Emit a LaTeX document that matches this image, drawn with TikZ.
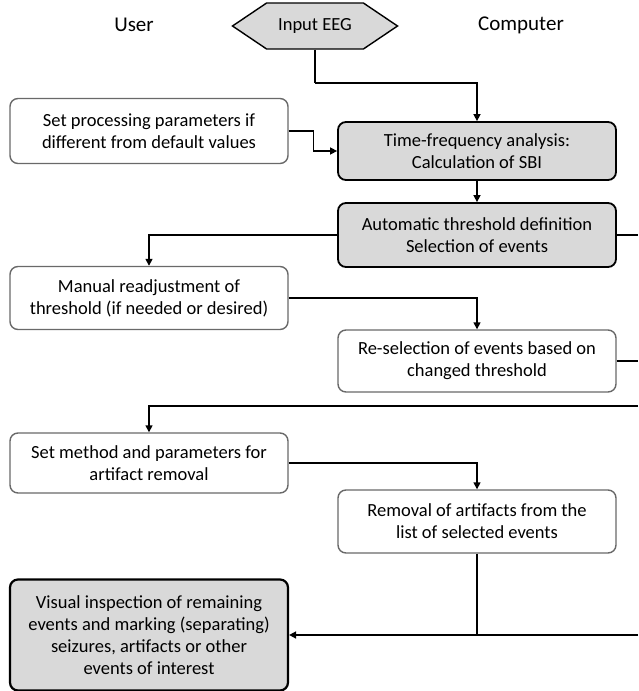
\documentclass[tikz,border=0pt]{standalone}
\usepackage{fontspec}
\setmainfont{Carlito}
\usepackage{tikz}
\usetikzlibrary{arrows.meta,shapes.symbols,positioning,calc}
\definecolor{boxGray}{RGB}{217,217,217}
\definecolor{edgeGray}{RGB}{105,105,105}
\tikzset{
  flowbox/.style={
    rectangle, rounded corners=8pt, align=center, inner sep=2pt,
    minimum width=278pt, font=\fontsize{18.5}{22}\selectfont
  },
  plainbox/.style={flowbox, draw=edgeGray, line width=1.4pt, fill=white},
  shadedbox/.style={flowbox, draw=black, line width=1.8pt, fill=boxGray},
  flowArrow/.style={-{Triangle[length=7pt,width=7pt]}, line width=1.5pt, draw=black},
  flowLine/.style={line width=1.5pt, draw=black}
}
\begin{document}
\begin{tikzpicture}[x=1pt, y=-1pt,
        lane/.style={font=\fontsize{21}{25}\selectfont},
        inbox/.style={signal, signal to=west and east, signal pointer angle=68,
                      draw=black, line width=1.4pt, fill=boxGray,
                      minimum width=165pt, minimum height=46pt, inner sep=0pt,
                      font=\fontsize{18.5}{22}\selectfont}]
  \useasboundingbox (0,0) rectangle (638,691);
  \coordinate (redge) at (638,0);
  % lanes and input
  \node[lane] (user) at (134,25) {User};
  \node[lane] (comp) at (521,25) {Computer};
  \node[inbox] (eeg) at (315,26) {Input EEG};
  % user column
  \node[plainbox, minimum height=65pt] (setpar) at (149,131)
    {Set processing parameters if\\different from default values};
  \node[plainbox, minimum height=63pt] (manual) at (149,298)
    {Manual readjustment of\\threshold (if needed or desired)};
  \node[plainbox, minimum height=60pt] (method) at (149,463)
    {Set method and parameters for\\artifact removal};
  \node[shadedbox, line width=2.2pt, minimum height=111pt] (visual) at (149,635)
    {Visual inspection of remaining\\events and marking (separating)\\seizures, artifacts or other\\events of interest};
  % computer column
  \node[shadedbox, minimum height=58pt] (tfa) at (477,151)
    {Time-frequency analysis:\\Calculation of SBI};
  \node[shadedbox, minimum height=64pt] (auto) at (477,235)
    {Automatic threshold definition\\Selection of events};
  \node[plainbox, minimum height=62pt] (resel) at (477,361)
    {Re-selection of events based on\\changed threshold};
  \node[plainbox, minimum height=63pt] (removal) at (477,521.5)
    {Removal of artifacts from the\\list of selected events};
  % connectors
  \coordinate (k1) at (315,83);
  \coordinate (k2) at (638,406);
  \coordinate (k3) at (638,635);
  \draw[flowLine] (eeg) -- (k1);
  \draw[flowArrow] (k1) -| (tfa);
  \draw[flowArrow] (setpar.east) -- ++(25,0) |- (tfa.west);
  \draw[flowArrow] (tfa) -- (auto);
  \draw[flowArrow] (auto.west) -| (manual);
  \draw[flowLine] (auto.east) -- (auto.east -| redge);
  \draw[flowArrow] (manual.east) -| (resel);
  \draw[flowLine] (resel.east) -- (resel.east -| redge);
  \draw[flowArrow] (k2) -| (method);
  \draw[flowArrow] (method.east) -| (removal);
  \draw[flowLine] (removal) -- (removal |- k3);
  \draw[flowArrow] (k3) -- (visual.east);
\end{tikzpicture}
\end{document}
